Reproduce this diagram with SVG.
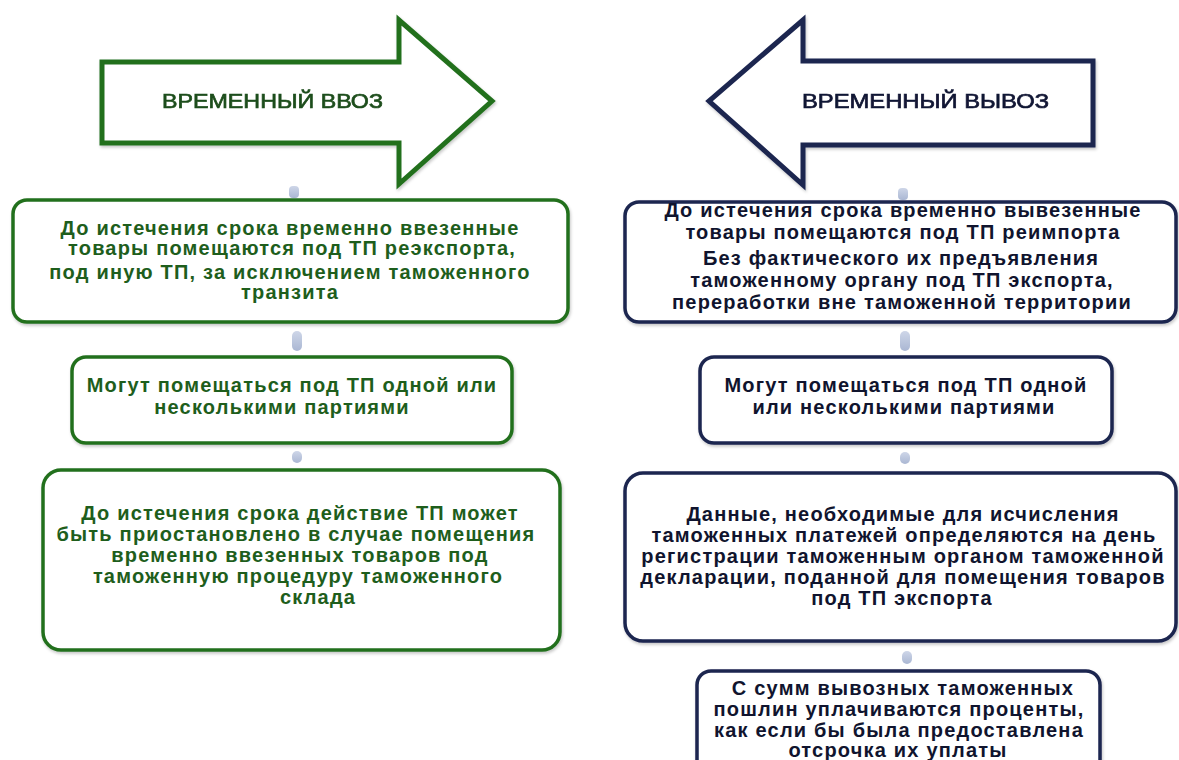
<svg xmlns="http://www.w3.org/2000/svg" width="1179" height="760" viewBox="0 0 1179 760">
<defs>
<filter id="sh" x="-5%" y="-5%" width="110%" height="115%">
<feDropShadow dx="1" dy="2" stdDeviation="1.5" flood-color="#000" flood-opacity="0.22"/>
</filter>
<linearGradient id="blob" x1="0" y1="0" x2="0" y2="1">
<stop offset="0" stop-color="#ced6e8"/>
<stop offset="1" stop-color="#aab7d3"/>
</linearGradient>
</defs>
<style>
.g{fill:#fff;stroke:#23701f;stroke-width:3.5}
.n{fill:#fff;stroke:#1b2550;stroke-width:3.5}
.ga{fill:#fff;stroke:#23701f;stroke-width:5;stroke-linejoin:miter}
.na{fill:#fff;stroke:#1b2550;stroke-width:5;stroke-linejoin:miter}
.tg{font-family:"Liberation Sans",Arial,sans-serif;font-size:20px;font-weight:bold;fill:#1e5e1c;text-anchor:middle;letter-spacing:1.2px}
.tn{font-family:"Liberation Sans",Arial,sans-serif;font-size:20px;font-weight:bold;fill:#10142e;text-anchor:middle;letter-spacing:1.2px}
.hg{font-family:"Liberation Sans",Arial,sans-serif;font-size:21px;fill:#1e4e1c;stroke:#1e4e1c;stroke-width:0.7}
.hn{font-family:"Liberation Sans",Arial,sans-serif;font-size:21px;fill:#121634;stroke:#121634;stroke-width:0.7}
.c{fill:url(#blob)}
</style>
<rect width="1179" height="760" fill="#fff"/>

<g id="connectors">
<rect class="c" x="289" y="186" width="10" height="12" rx="4"/>
<rect class="c" x="292" y="331" width="10" height="20" rx="5"/>
<rect class="c" x="292" y="451" width="10" height="12" rx="5"/>
<rect class="c" x="898" y="188" width="10" height="12" rx="4"/>
<rect class="c" x="900" y="331" width="10" height="20" rx="5"/>
<rect class="c" x="900" y="452" width="10" height="12" rx="5"/>
<rect class="c" x="902" y="651" width="10" height="13" rx="5"/>
</g>

<g id="arrow-import" filter="url(#sh)">
<polygon class="ga" points="102,62 399,62 399,20 492,101 399,184 399,143 102,143"/>
<text class="hg" x="162" y="108" textLength="221" lengthAdjust="spacingAndGlyphs">ВРЕМЕННЫЙ ВВОЗ</text>
</g>

<g id="arrow-export" filter="url(#sh)">
<polygon class="na" points="1093,61 803,61 803,20 709,101 803,185 803,145 1093,145"/>
<text class="hn" x="802" y="108" textLength="247" lengthAdjust="spacingAndGlyphs">ВРЕМЕННЫЙ ВЫВОЗ</text>
</g>

<g id="L1">
<rect class="g" x="13" y="200" width="555" height="122" rx="14" filter="url(#sh)"/>
<text class="tg" x="290" y="235">До истечения срока временно ввезенные</text>
<text class="tg" x="292" y="255">товары помещаются под ТП реэкспорта,</text>
<text class="tg" x="290" y="279">под иную ТП, за исключением таможенного</text>
<text class="tg" x="290" y="299">транзита</text>
</g>

<g id="L2">
<rect class="g" x="72" y="357" width="440" height="86" rx="14" filter="url(#sh)"/>
<text class="tg" x="292" y="392">Могут помещаться под ТП одной или</text>
<text class="tg" x="282" y="414">несколькими партиями</text>
</g>

<g id="L3">
<rect class="g" x="43" y="470" width="517" height="180" rx="18" filter="url(#sh)"/>
<text class="tg" x="300" y="520">До истечения срока действие ТП может</text>
<text class="tg" x="296" y="541">быть приостановлено в случае помещения</text>
<text class="tg" x="300" y="562">временно ввезенных товаров под</text>
<text class="tg" x="298" y="583">таможенную процедуру таможенного</text>
<text class="tg" x="318" y="604">склада</text>
</g>

<g id="R1">
<rect class="n" x="625" y="202" width="551" height="120" rx="14" filter="url(#sh)"/>
<text class="tn" x="903" y="217">До истечения срока временно вывезенные</text>
<text class="tn" x="903" y="239">товары помещаются под ТП реимпорта</text>
<text class="tn" x="901" y="265">Без фактического их предъявления</text>
<text class="tn" x="902" y="287">таможенному органу под ТП экспорта,</text>
<text class="tn" x="902" y="309">переработки вне таможенной территории</text>
</g>

<g id="R2">
<rect class="n" x="700" y="357" width="412" height="86" rx="14" filter="url(#sh)"/>
<text class="tn" x="906" y="392">Могут помещаться под ТП одной</text>
<text class="tn" x="904" y="414">или несколькими партиями</text>
</g>

<g id="R3">
<rect class="n" x="625" y="473" width="551" height="168" rx="18" filter="url(#sh)"/>
<text class="tn" x="903" y="521">Данные, необходимые для исчисления</text>
<text class="tn" x="904" y="542">таможенных платежей определяются на день</text>
<text class="tn" x="903" y="563">регистрации таможенным органом таможенной</text>
<text class="tn" x="903" y="584">декларации, поданной для помещения товаров</text>
<text class="tn" x="902" y="605">под ТП экспорта</text>
</g>

<g id="R4">
<rect class="n" x="697" y="671" width="403" height="110" rx="14" filter="url(#sh)"/>
<text class="tn" x="903" y="695">С сумм вывозных таможенных</text>
<text class="tn" x="899" y="716">пошлин уплачиваются проценты,</text>
<text class="tn" x="899" y="737">как если бы была предоставлена</text>
<text class="tn" x="898" y="757">отсрочка их уплаты</text>
</g>
</svg>
